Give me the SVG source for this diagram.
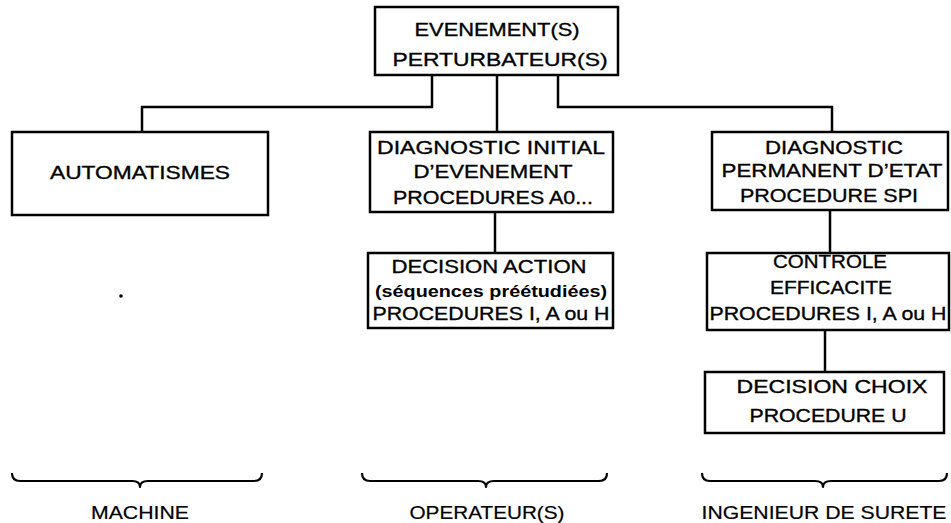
<svg xmlns="http://www.w3.org/2000/svg" width="951" height="523" viewBox="0 0 951 523">
  <style>
    .box { fill: #fff; stroke: #000; stroke-width: 2.5; }
    .wire { fill: none; stroke: #000; stroke-width: 2.5; }
    .brace { fill: none; stroke: #000; stroke-width: 2.2; stroke-linejoin: round; }
    text { font-family: "Liberation Sans", Arial, sans-serif; font-size: 19px; fill: #000; stroke: #000; stroke-width: 0.35; text-anchor: middle; }
    .b { font-weight: bold; font-size: 16px; stroke-width: 0; }
    .lbl { font-size: 18px; stroke-width: 0.2; }
  </style>
  <rect width="951" height="523" fill="#fff"/>

  <!-- connectors -->
  <g id="connectors">
    <path class="wire" d="M432,75 V107 H142 V132"/>
    <path class="wire" d="M497,75 V132"/>
    <path class="wire" d="M558,75 V107 H832 V132"/>
    <path class="wire" d="M495,212 V253"/>
    <path class="wire" d="M830,210 V253"/>
    <path class="wire" d="M825,330 V372"/>
  </g>

  <g id="evenements">
    <rect class="box" x="375" y="7" width="243" height="68"/>
    <text x="497" y="36" textLength="165" lengthAdjust="spacingAndGlyphs">EVENEMENT(S)</text>
    <text x="500" y="66" textLength="215" lengthAdjust="spacingAndGlyphs">PERTURBATEUR(S)</text>
  </g>

  <g id="automatismes">
    <rect class="box" x="12" y="132" width="256" height="83"/>
    <text x="140" y="179" textLength="180" lengthAdjust="spacingAndGlyphs">AUTOMATISMES</text>
  </g>

  <g id="diagnostic-initial">
    <rect class="box" x="370" y="132" width="243" height="80"/>
    <text x="491" y="154" textLength="228" lengthAdjust="spacingAndGlyphs">DIAGNOSTIC INITIAL</text>
    <text x="493" y="178" textLength="159" lengthAdjust="spacingAndGlyphs">D’EVENEMENT</text>
    <text x="493" y="204" textLength="200" lengthAdjust="spacingAndGlyphs">PROCEDURES A0...</text>
  </g>

  <g id="decision-action">
    <rect class="box" x="368" y="253" width="245" height="75"/>
    <text x="489" y="273" textLength="195" lengthAdjust="spacingAndGlyphs">DECISION ACTION</text>
    <text class="b" x="491" y="297" textLength="232" lengthAdjust="spacingAndGlyphs">(séquences préétudiées)</text>
    <text x="491" y="320" textLength="237" lengthAdjust="spacingAndGlyphs">PROCEDURES I, A ou H</text>
  </g>

  <g id="diagnostic-permanent">
    <rect class="box" x="712" y="132" width="236" height="78"/>
    <text x="834" y="154" textLength="138" lengthAdjust="spacingAndGlyphs">DIAGNOSTIC</text>
    <text x="832" y="177" textLength="221" lengthAdjust="spacingAndGlyphs">PERMANENT D’ETAT</text>
    <text x="829" y="202" textLength="178" lengthAdjust="spacingAndGlyphs">PROCEDURE SPI</text>
  </g>

  <g id="controle-efficacite">
    <rect class="box" x="707" y="253" width="242" height="77"/>
    <text x="830" y="268" textLength="114" lengthAdjust="spacingAndGlyphs">CONTROLE</text>
    <text x="831" y="294" textLength="122" lengthAdjust="spacingAndGlyphs">EFFICACITE</text>
    <text x="828" y="320" textLength="237" lengthAdjust="spacingAndGlyphs">PROCEDURES I, A ou H</text>
  </g>

  <g id="decision-choix">
    <rect class="box" x="705" y="372" width="239" height="61"/>
    <text x="832" y="393" textLength="191" lengthAdjust="spacingAndGlyphs">DECISION CHOIX</text>
    <text x="828" y="422" textLength="157" lengthAdjust="spacingAndGlyphs">PROCEDURE U</text>
  </g>

  <!-- stray mark in the machine column -->
  <circle cx="121" cy="296" r="1.8" fill="#000"/>

  <!-- braces grouping the columns -->
  <g id="braces">
    <path class="brace" d="M12,473 Q12,481 20,481 H132 Q140,481 140,487 Q140,481 148,481 H254 Q262,481 262,473"/>
    <path class="brace" d="M362,473 Q362,481 370,481 H478 Q486,481 486,487 Q486,481 494,481 H599 Q607,481 607,473"/>
    <path class="brace" d="M702,473 Q702,481 710,481 H815 Q823,481 823,487 Q823,481 831,481 H939 Q947,481 947,473"/>
  </g>

  <g id="labels">
    <text class="lbl" x="140" y="519" textLength="98" lengthAdjust="spacingAndGlyphs">MACHINE</text>
    <text class="lbl" x="487" y="519" textLength="155" lengthAdjust="spacingAndGlyphs">OPERATEUR(S)</text>
    <text class="lbl" x="824" y="519" textLength="245" lengthAdjust="spacingAndGlyphs">INGENIEUR DE SURETE</text>
  </g>
</svg>
